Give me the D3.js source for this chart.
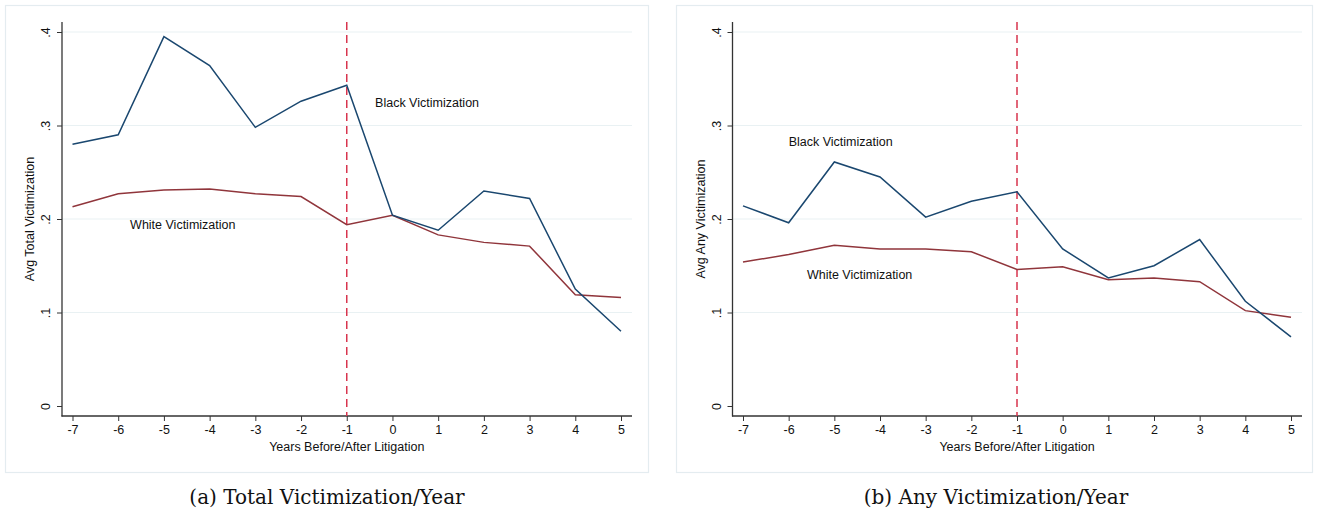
<!DOCTYPE html>
<html>
<head>
<meta charset="utf-8">
<script src="https://cdn.jsdelivr.net/npm/d3@7"></script>
<style>
  body { margin: 0; background: #fff; }
  svg text { font-family: "Liberation Sans", Arial, sans-serif; fill: #111; }
</style>
</head>
<body>
<svg id="chart"></svg>
<script>
// years relative to litigation
var years = [-7, -6, -5, -4, -3, -2, -1, 0, 1, 2, 3, 4, 5];
var yTicks = [0, 0.1, 0.2, 0.3, 0.4];
var yTickLabels = ["0", ".1", ".2", ".3", ".4"];

// panel (a): avg total victimization
var totalBlack = [0.280, 0.290, 0.395, 0.364, 0.298, 0.326, 0.343, 0.204, 0.188, 0.230, 0.222, 0.125, 0.080];
var totalWhite = [0.213, 0.227, 0.231, 0.232, 0.227, 0.224, 0.194, 0.204, 0.183, 0.175, 0.171, 0.119, 0.116];

// panel (b): avg any victimization
var anyBlack = [0.214, 0.196, 0.261, 0.245, 0.202, 0.219, 0.229, 0.168, 0.137, 0.150, 0.178, 0.112, 0.074];
var anyWhite = [0.154, 0.162, 0.172, 0.168, 0.168, 0.165, 0.146, 0.149, 0.135, 0.137, 0.133, 0.102, 0.095];

var litigationYear = -1;

var svg = d3.select("#chart")
  .attr("width", 1317)
  .attr("height", 518);

var navy = "#1a476f",
    maroon = "#90353b",
    dashRed = "#d8354e",
    gridCol = "#e9f1f3";

function drawPanel(p) {
  // light frame round the graph
  svg.append("rect")
    .attr("x", p.box[0] + 0.5).attr("y", 5.5)
    .attr("width", p.box[1] - p.box[0]).attr("height", 467)
    .style("fill", "none")
    .style("stroke", "#e4ecf0")
    .style("stroke-width", 1.2);

  var x = d3.scaleLinear().domain([-7, 5]).range([p.axisX + 10.5, p.axisEnd - 11]);
  var y = d3.scaleLinear().domain([0, 0.4]).range([406, 32]);

  var g = svg.append("g");

  // grid
  g.selectAll(".grid")
    .data(yTicks.slice(1))
    .enter().append("line")
    .attr("x1", p.axisX).attr("x2", p.axisEnd)
    .attr("y1", d => y(d)).attr("y2", d => y(d))
    .style("stroke", gridCol)
    .style("stroke-width", 1.2);

  // y axis
  var yAxis = g.append("g")
    .attr("transform", "translate(" + p.axisX + ",0)")
    .call(d3.axisLeft(y).tickValues(yTicks).tickSize(5).tickFormat((d, i) => yTickLabels[i]));
  yAxis.select(".domain").remove();
  yAxis.selectAll(".tick line").style("stroke", "#333");
  yAxis.selectAll(".tick text")
    .attr("x", 0).attr("y", 0).attr("dy", "0.35em")
    .attr("transform", "translate(-16,0) rotate(-90)")
    .style("text-anchor", "middle")
    .style("font-size", "12.5px");
  g.append("line")
    .attr("x1", p.axisX).attr("x2", p.axisX)
    .attr("y1", 22).attr("y2", 416.5)
    .style("stroke", "#333").style("stroke-width", 1.3);

  // x axis
  var xAxis = g.append("g")
    .attr("transform", "translate(0,416)")
    .call(d3.axisBottom(x).tickValues(years).tickSize(5).tickFormat(d3.format("d")));
  xAxis.select(".domain").remove();
  xAxis.selectAll(".tick line").style("stroke", "#333");
  xAxis.selectAll(".tick text")
    .attr("y", 9)
    .style("font-size", "12.5px")
    .text(d => String(d).replace("\u2212", "-"));
  g.append("line")
    .attr("x1", p.axisX - 0.5).attr("x2", p.axisEnd)
    .attr("y1", 416).attr("y2", 416)
    .style("stroke", "#333").style("stroke-width", 1.3);

  // axis titles
  g.append("text")
    .attr("transform", "translate(" + (p.axisX - 32) + "," + 219 + ") rotate(-90)")
    .attr("dy", "0.35em")
    .style("text-anchor", "middle")
    .style("font-size", "12.5px")
    .text(p.yTitle);
  g.append("text")
    .attr("x", x(-1)).attr("y", 447)
    .attr("dy", "0.35em")
    .style("text-anchor", "middle")
    .style("font-size", "12.5px")
    .text("Years Before/After Litigation");

  // litigation marker
  g.append("line")
    .attr("x1", x(litigationYear)).attr("x2", x(litigationYear))
    .attr("y1", 22).attr("y2", 416)
    .style("stroke", dashRed)
    .style("stroke-width", 1.5)
    .style("stroke-dasharray", "8,5");

  var line = d3.line()
    .x((d, i) => x(years[i]))
    .y(d => y(d));

  g.append("path").datum(p.white)
    .attr("d", line)
    .style("fill", "none").style("stroke", maroon).style("stroke-width", 1.5);
  g.append("path").datum(p.black)
    .attr("d", line)
    .style("fill", "none").style("stroke", navy).style("stroke-width", 1.5);

  // series labels
  g.append("text")
    .attr("x", x(p.blackLabel[0])).attr("y", y(p.blackLabel[1]))
    .attr("dy", "0.35em")
    .style("font-size", "12.5px")
    .text("Black Victimization");
  g.append("text")
    .attr("x", x(p.whiteLabel[0])).attr("y", y(p.whiteLabel[1]))
    .attr("dy", "0.35em")
    .style("font-size", "12.5px")
    .text("White Victimization");

  // caption
  svg.append("text")
    .attr("x", p.captionX).attr("y", 497)
    .attr("dy", "0.35em")
    .style("text-anchor", "middle")
    .style("font-family", "'DejaVu Serif', 'Liberation Serif', serif")
    .style("font-size", "20px")
    .text(p.caption);
}

drawPanel({
  box: [5, 648], axisX: 62, axisEnd: 632,
  black: totalBlack, white: totalWhite,
  yTitle: "Avg Total Victimization",
  blackLabel: [-0.38, 0.325], whiteLabel: [-5.74, 0.194],
  caption: "(a) Total Victimization/Year", captionX: 327
});

drawPanel({
  box: [676, 1312], axisX: 732.5, axisEnd: 1302,
  black: anyBlack, white: anyWhite,
  yTitle: "Avg Any Victimization",
  blackLabel: [-6.0, 0.283], whiteLabel: [-5.6, 0.141],
  caption: "(b) Any Victimization/Year", captionX: 996
});
</script>
</body>
</html>
